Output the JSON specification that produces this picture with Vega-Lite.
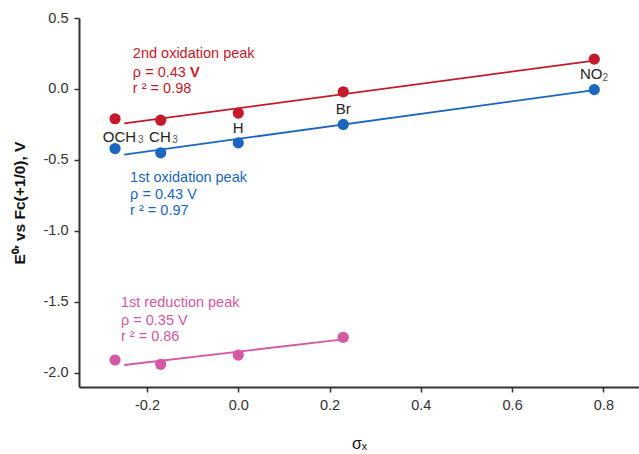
{
  "$schema": "https://vega.github.io/schema/vega-lite/v6.json",
  "width": 560,
  "height": 369,
  "autosize": {"type": "none"},
  "padding": {"left": 79, "top": 18, "right": 0, "bottom": 67},
  "background": "white",
  "config": {
    "view": {"stroke": null},
    "font": "Liberation Sans",
    "axis": {"grid": false, "domainColor": "#333333", "domainWidth": 2, "tickColor": "#333333", "tickWidth": 1.5, "tickSize": 5, "labelFont": "Liberation Sans", "labelFontSize": 14.5, "labelColor": "#333333", "titleFont": "Liberation Sans", "titleColor": "#111111"}
  },
  "datasets": {
    "pts": [
      {"sigma": -0.27, "E": -0.21, "series": "ox2"},
      {"sigma": -0.17, "E": -0.22, "series": "ox2"},
      {"sigma": 0.0, "E": -0.17, "series": "ox2"},
      {"sigma": 0.23, "E": -0.02, "series": "ox2"},
      {"sigma": 0.78, "E": 0.21, "series": "ox2"},
      {"sigma": -0.27, "E": -0.42, "series": "ox1"},
      {"sigma": -0.17, "E": -0.45, "series": "ox1"},
      {"sigma": 0.0, "E": -0.38, "series": "ox1"},
      {"sigma": 0.23, "E": -0.25, "series": "ox1"},
      {"sigma": 0.78, "E": -0.005, "series": "ox1"},
      {"sigma": -0.27, "E": -1.91, "series": "red1"},
      {"sigma": -0.17, "E": -1.94, "series": "red1"},
      {"sigma": 0.0, "E": -1.875, "series": "red1"},
      {"sigma": 0.23, "E": -1.75, "series": "red1"}
    ],
    "fits": [
      {"sigma": -0.25, "E": -0.243, "series": "ox2"},
      {"sigma": 0.78, "E": 0.2, "series": "ox2"},
      {"sigma": -0.25, "E": -0.462, "series": "ox1"},
      {"sigma": 0.78, "E": -0.008, "series": "ox1"},
      {"sigma": -0.25, "E": -1.945, "series": "red1"},
      {"sigma": 0.23, "E": -1.764, "series": "red1"}
    ],
    "notes": [
      {"sigma": -0.231, "E": 0.247, "label": "2nd oxidation peak", "series": "ox2"},
      {"sigma": -0.231, "E": 0.115, "label": "ρ = 0.43", "series": "ox2"},
      {"sigma": -0.231, "E": 0.0, "label": "r ² = 0.98", "series": "ox2"},
      {"sigma": -0.237, "E": -0.63, "label": "1st oxidation peak", "series": "ox1"},
      {"sigma": -0.237, "E": -0.75, "label": "ρ = 0.43 V", "series": "ox1"},
      {"sigma": -0.237, "E": -0.863, "label": "r ² = 0.97", "series": "ox1"},
      {"sigma": -0.257, "E": -1.508, "label": "1st reduction peak", "series": "red1"},
      {"sigma": -0.257, "E": -1.635, "label": "ρ = 0.35 V", "series": "red1"},
      {"sigma": -0.257, "E": -1.75, "label": "r ² = 0.86", "series": "red1"}
    ],
    "boldv": [
      {"sigma": -0.106, "E": 0.115, "label": "V", "series": "ox2"}
    ],
    "subs": [
      {"sigma": -0.297, "E": -0.335, "label": "OCH"},
      {"sigma": -0.1955, "E": -0.335, "label": "CH"},
      {"sigma": 0.7485, "E": 0.107, "label": "NO"}
    ],
    "subsmall": [
      {"sigma": -0.2195, "E": -0.362, "label": "3"},
      {"sigma": -0.1445, "E": -0.362, "label": "3"},
      {"sigma": 0.798, "E": 0.078, "label": "2"}
    ],
    "subc": [
      {"sigma": 0.0, "E": -0.276, "label": "H"},
      {"sigma": 0.23, "E": -0.14, "label": "Br"}
    ]
  },
  "layer": [
    {
      "mark": {"type": "rule", "color": "#333333", "strokeWidth": 2},
      "encoding": {"y": {"datum": 0.5, "type": "quantitative", "scale": {"domain": [-2.1, 0.5], "nice": false, "zero": false}}}
    },
    {
      "data": {"name": "fits"},
      "mark": {"type": "line", "strokeWidth": 1.8},
      "encoding": {
        "x": {"field": "sigma", "type": "quantitative", "scale": {"domain": [-0.349, 0.878], "nice": false, "zero": false}, "axis": {"values": [-0.2, 0, 0.2, 0.4, 0.6, 0.8], "labelExpr": "replace(format(datum.value, '.1f'), '\u2212', '-')", "title": "σₓ", "titleFontSize": 16, "titleFontWeight": "normal", "titlePadding": 24, "labelPadding": 6}},
        "y": {"field": "E", "type": "quantitative", "scale": {"domain": [-2.1, 0.5], "nice": false, "zero": false}, "axis": {"values": [-2, -1.5, -1, -0.5, 0, 0.5], "labelExpr": "replace(format(datum.value, '.1f'), '\u2212', '-')", "title": "E⁰′ vs Fc(+1/0), V", "titleFontSize": 15.5, "titleFontWeight": "bold", "titlePadding": 16, "labelPadding": 6}},
        "color": {"field": "series", "type": "nominal", "scale": {"domain": ["ox2", "ox1", "red1"], "range": ["#c41a2b", "#1a66c0", "#d657a3"]}, "legend": null},
        "detail": {"field": "series"}
      }
    },
    {
      "data": {"name": "pts"},
      "mark": {"type": "point", "filled": true, "shape": "circle", "size": 125, "opacity": 1},
      "encoding": {
        "x": {"field": "sigma", "type": "quantitative"},
        "y": {"field": "E", "type": "quantitative"},
        "color": {"field": "series", "type": "nominal", "legend": null}
      }
    },
    {
      "data": {"name": "notes"},
      "mark": {"type": "text", "align": "left", "baseline": "middle", "fontSize": 14.5},
      "encoding": {
        "x": {"field": "sigma", "type": "quantitative"},
        "y": {"field": "E", "type": "quantitative"},
        "text": {"field": "label"},
        "color": {"field": "series", "type": "nominal", "legend": null}
      }
    },
    {
      "data": {"name": "boldv"},
      "mark": {"type": "text", "align": "left", "baseline": "middle", "fontSize": 14.5, "fontWeight": "bold"},
      "encoding": {
        "x": {"field": "sigma", "type": "quantitative"},
        "y": {"field": "E", "type": "quantitative"},
        "text": {"field": "label"},
        "color": {"field": "series", "type": "nominal", "legend": null}
      }
    },
    {
      "data": {"name": "subs"},
      "mark": {"type": "text", "align": "left", "baseline": "middle", "fontSize": 15, "color": "#222222"},
      "encoding": {
        "x": {"field": "sigma", "type": "quantitative"},
        "y": {"field": "E", "type": "quantitative"},
        "text": {"field": "label"}
      }
    },
    {
      "data": {"name": "subsmall"},
      "mark": {"type": "text", "align": "left", "baseline": "middle", "fontSize": 10, "color": "#555555"},
      "encoding": {
        "x": {"field": "sigma", "type": "quantitative"},
        "y": {"field": "E", "type": "quantitative"},
        "text": {"field": "label"}
      }
    },
    {
      "data": {"name": "subc"},
      "mark": {"type": "text", "align": "center", "baseline": "middle", "fontSize": 15, "color": "#222222"},
      "encoding": {
        "x": {"field": "sigma", "type": "quantitative"},
        "y": {"field": "E", "type": "quantitative"},
        "text": {"field": "label"}
      }
    }
  ]
}
